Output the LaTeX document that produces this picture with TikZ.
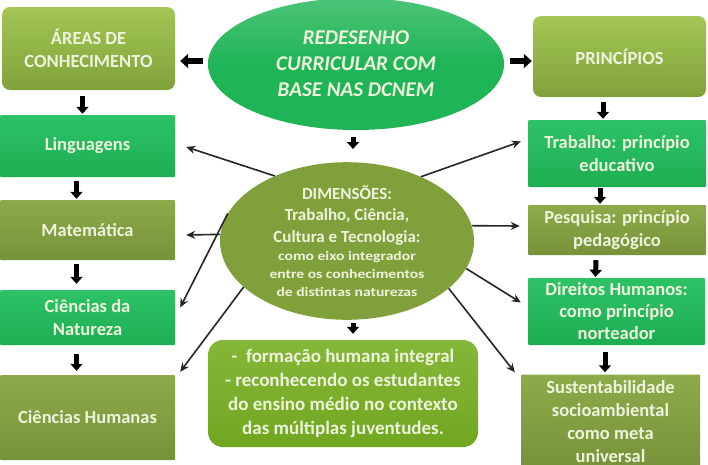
\documentclass[tikz,border=0pt]{standalone}
\usepackage{fontspec}
\setmainfont{Carlito}
\newfontfamily\widefont{Carlito}[FakeStretch=1.2]
\usetikzlibrary{arrows.meta,calc,shapes.geometric}
\definecolor{txt}{HTML}{EEF4DC}
\definecolor{olAtop}{HTML}{A3C655}
\definecolor{olAbot}{HTML}{80A23A}
\definecolor{olBtop}{HTML}{8DAB49}
\definecolor{olBbot}{HTML}{76923A}
\definecolor{grtop}{HTML}{2DC266}
\definecolor{grbot}{HTML}{1EAE52}
\definecolor{ellgreen}{HTML}{1FB556}
\definecolor{dimol}{HTML}{80A03C}
\definecolor{botgr}{HTML}{77AF22}
\newcommand{\bigdim}{\bfseries\fontsize{17}{21.5}\selectfont}
\newcommand{\smalldim}{\widefont\bfseries\fontsize{13}{18}\selectfont}
\tikzset{
  base/.style={align=center, text=txt, inner sep=2pt,
     font=\bfseries\fontsize{18.5}{23}\selectfont},
  oliveA/.style={base, top color=olAtop, bottom color=olAbot, rounded corners=8pt},
  oliveB/.style={base, top color=olBtop, bottom color=olBbot, rounded corners=1pt},
  greenbox/.style={base, top color=grtop, bottom color=grbot, rounded corners=1pt},
  blkdown/.style={line width=5pt, -{Triangle[length=7pt,width=12pt]}},
  blkside/.style={line width=6pt, -{Triangle[length=8pt,width=14pt]}},
  thin/.style={line width=1.6pt, -{Stealth[length=9pt,width=8pt]}, black!85}
}
\begin{document}
\begin{tikzpicture}[x=1pt,y=-1pt]
\useasboundingbox (0,0) rectangle (708,464);
\clip (0,0) rectangle (708,464);
\fill[white] (0,0) rectangle (708,464);

% left column
\node[oliveA, minimum width=173pt, minimum height=83pt] (areas) at (88.5,48.5) {ÁREAS DE\\CONHECIMENTO};
\node[greenbox, minimum width=175pt, minimum height=62pt] (ling) at (87.5,146) {Linguagens};
\node[oliveB, minimum width=175pt, minimum height=60pt] (mat) at (87.5,230) {Matemática};
\node[greenbox, minimum width=175pt, minimum height=55pt] (nat) at (87.5,317.5) {Ciências da\\Natureza};
\node[oliveB, minimum width=175pt, minimum height=85pt] (hum) at (87.5,417.5) {Ciências Humanas};

% top ellipse
\node[ellipse, inner sep=0pt, minimum width=296pt, minimum height=132pt,
      top color=ellgreen!80!white, bottom color=ellgreen, middle color=ellgreen,
      align=center, text=txt, font=\bfseries\itshape\fontsize{21}{26}\selectfont] (top) at (356,64)
      {REDESENHO\\CURRICULAR COM\\BASE NAS DCNEM};

% right column
\node[oliveA, minimum width=173pt, minimum height=81pt] (princ) at (619.5,56.5) {PRINCÍPIOS};
\node[greenbox, minimum width=178pt, minimum height=67pt] (trab) at (617,153.5) {Trabalho: princípio\\educativo};
\node[oliveB, minimum width=178pt, minimum height=50pt] (pesq) at (617,230) {Pesquisa: princípio\\pedagógico};
\node[greenbox, minimum width=177pt, minimum height=67pt, font=\bfseries\fontsize{18.5}{22}\selectfont] (dir) at (616.5,311.5) {Direitos Humanos:\\como princípio\\norteador};
\node[oliveB, minimum width=179pt, minimum height=95pt] (sus) at (610.5,422) {Sustentabilidade\\socioambiental\\como meta\\universal};

% dimensions ellipse
\node[ellipse, inner sep=0pt, minimum width=254pt, minimum height=142pt, fill=dimol,
      align=center, text=txt, font=\bigdim] (dim) at (347,241)
      {DIMENSÕES:\\Trabalho, Ciência,\\Cultura e Tecnologia:\\[-3pt]
       \smalldim como eixo integrador\\[-3.5pt]\smalldim entre os conhecimentos\\[-3.5pt]\smalldim de distintas naturezas};

% bottom box
\node[base, rounded corners=15pt, top color=botgr!90!white, bottom color=botgr!95!black,
      minimum width=270pt, minimum height=107pt, font=\bfseries\fontsize{19}{24}\selectfont] (bot) at (343,393.5)
      {-\ \ formação humana integral\\- reconhecendo os estudantes\\do ensino médio no contexto\\das múltiplas juventudes.};

% block arrows
\draw[blkside] ($(top.west)+(-5,-3)$) -- ($(areas.east)+(5,12.5)$);
\draw[blkside] ($(top.east)+(6,-3)$) -- ($(princ.west)+(-1,4.5)$);
\draw[blkdown] ($(areas.south)+(-6,6)$) -- ($(ling.north)+(-5,-1)$);
\draw[blkdown] ($(ling.south)+(-11,4)$) -- ($(mat.north)+(-11,-1)$);
\draw[blkdown] ($(mat.south)+(-11,4)$) -- ($(nat.north)+(-11,-6)$);
\draw[blkdown] ($(nat.south)+(-11,9)$) -- ($(hum.north)+(-11,-4)$);
\draw[blkdown] ($(princ.south)+(-16.5,5)$) -- ($(trab.north)+(-14,-1)$);
\draw[blkdown] ($(trab.south)+(-17,1)$) -- ($(pesq.north)+(-17,-1)$);
\draw[blkdown] ($(pesq.south)+(-21,5)$) -- ($(dir.north)+(-21,-1)$);
\draw[blkdown] ($(dir.south)+(-11.5,7)$) -- ($(sus.north)+(-5.5,-2)$);
\draw[blkdown] ($(top.south)+(-3,7)$) -- ($(dim.north)+(6,-13)$);
\draw[blkdown] ($(dim.south)+(6,3)$) -- ($(bot.north)+(10,-6)$);

% thin arrows
\draw[thin] (dim.138) -- ($(ling.east)+(11,1)$);
\draw[thin] (dim.177) -- ($(mat.east)+(11,5)$);
\draw[thin] (dim.167) -- ($(nat.east)+(5,-10)$);
\draw[thin] (dim.204) -- ($(hum.north east)+(5,-3)$);
\draw[thin] (dim.41) -- ($(trab.west)+(-7,-12)$);
\draw[thin] (dim.7) -- ($(pesq.west)+(-8,-4)$);
\draw[thin] (dim.347) -- ($(dir.west)+(-7,-9)$);
\draw[thin] (dim.335) -- ($(sus.north west)+(-6,-2)$);
\end{tikzpicture}
\end{document}
